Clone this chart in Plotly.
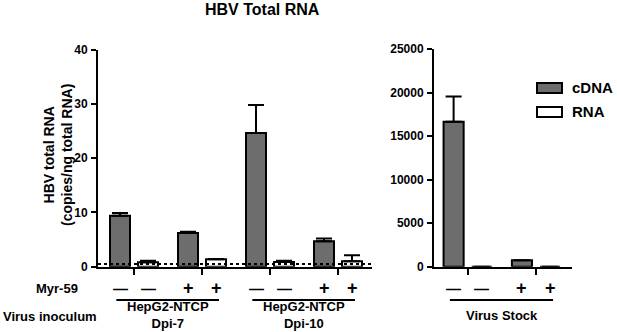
import plotly.graph_objects as go

W, H = 617, 332

# ---------------- data ----------------
groups_left = ["Dpi-7 -", "Dpi-7 +", "Dpi-10 -", "Dpi-10 +"]
cdna_left = [9.4, 6.2, 24.6, 4.7]
cdna_left_err = [0.5, 0.25, 5.2, 0.5]
rna_left = [0.8, 1.35, 0.85, 1.0]
rna_left_err = [0.3, 0.05, 0.25, 1.1]

groups_right = ["Stock -", "Stock +"]
cdna_right = [16650, 750]
cdna_right_err = [2900, 0]
rna_right = [0, 0]
rna_right_err = [0, 0]

lod = 0.5
myr_left = ["—", "+", "—", "+"]
myr_right = ["—", "+"]
left_yticks = [0, 10, 20, 30, 40]
right_yticks = [0, 5000, 10000, 15000, 20000, 25000]

# ---------------- style ----------------
FONT = "Liberation Sans"
GRAY = "#6d6d6d"
bargap = 0.176
bargroupgap = 0.286
off = (1 - bargap) / 4


def px(x):
    return x / W


def py(y):
    return 1 - y / H


fig = go.Figure()


def add_bars(x, vals, errs, color, name, xa, ya):
    fig.add_trace(go.Bar(
        x=x, y=vals, name=name, xaxis=xa, yaxis=ya,
        marker=dict(color=color, line=dict(color="black", width=2)),
        error_y=dict(type="data", symmetric=False, array=errs,
                     arrayminus=[0] * len(errs), color="black",
                     thickness=2, width=8),
        showlegend=False, hoverinfo="skip",
    ))


add_bars(groups_left, cdna_left, cdna_left_err, GRAY, "cDNA", "x", "y")
add_bars(groups_left, rna_left, rna_left_err, "white", "RNA", "x", "y")
add_bars(groups_right, cdna_right, cdna_right_err, GRAY, "cDNA", "x2", "y2")
add_bars(groups_right, rna_right, rna_right_err, "white", "RNA", "x2", "y2")

axis_common = dict(showline=True, linewidth=2, linecolor="black",
                   showgrid=False, zeroline=False, ticks="outside",
                   tickwidth=2, tickcolor="black", automargin=False)
tickfont = dict(family=FONT, size=12, color="black", weight="bold")

fig.update_layout(
    template="none",
    width=W, height=H, autosize=False,
    margin=dict(l=0, r=0, t=0, b=0, pad=0),
    paper_bgcolor="white", plot_bgcolor="white",
    barmode="group", bargap=bargap, bargroupgap=bargroupgap,
    showlegend=False,
    xaxis=dict(domain=[px(98), px(372)], range=[-0.53, 3.5],
               type="category", showticklabels=False, ticklen=6,
               anchor="y", **axis_common),
    yaxis=dict(domain=[py(266.7), py(49.5)], range=[0, 40],
               tickvals=left_yticks, ticklen=5, tickfont=tickfont,
               ticklabelstandoff=1, anchor="x", **axis_common),
    xaxis2=dict(domain=[px(434), px(572)], range=[-0.493, 1.527],
                type="category", showticklabels=False, ticklen=6,
                anchor="y2", **axis_common),
    yaxis2=dict(domain=[py(266.7), py(49)], range=[0, 25000],
                tickvals=right_yticks, tickformat="d", ticklen=5,
                tickfont=tickfont, ticklabelstandoff=1, anchor="x2",
                **axis_common),
)

# detection-limit dotted line
fig.add_shape(type="line", xref="x domain", yref="y", x0=0, x1=1,
              y0=lod, y1=lod, line=dict(color="black", width=2, dash="dot"))

ann = []


def text(x, y, s, size, xref="paper", xanchor="center", angle=0):
    ann.append(dict(x=x, y=y, xref=xref, yref="paper", text=s,
                    showarrow=False, xanchor=xanchor, yanchor="middle",
                    textangle=angle,
                    font=dict(family=FONT, size=size, color="black",
                              weight="bold")))


# title
text(px(262), py(9), "HBV Total RNA", 16)
# y-axis title
text(px(58), py(155), "HBV total RNA<br>(copies/ng total RNA)", 14, angle=-90)

# row labels
text(px(57), py(288), "Myr-59", 13)
text(px(50), py(316), "Virus inoculum", 13)


def sign(xref, pos, s):
    text(pos, py(288), s, 15 if s == "—" else 18, xref=xref)


# Myr-59 signs under each bar (both bars of a group share the sign)
for xref, signs in (("x", myr_left), ("x2", myr_right)):
    for gi, s in enumerate(signs):
        sign(xref, gi - off, s)
        sign(xref, gi + off, s)

# group underline and labels
for xref, a, b in (("x", 0, 1), ("x", 2, 3), ("x2", 0, 1)):
    fig.add_shape(type="line", xref=xref, yref="paper",
                  x0=a - 0.26, x1=b + 0.25, y0=py(300), y1=py(300),
                  line=dict(color="black", width=2))

text(0.5, py(315), "HepG2-NTCP<br>Dpi-7", 13, xref="x")
text(2.5, py(315), "HepG2-NTCP<br>Dpi-10", 13, xref="x")
text(0.5, py(315), "Virus Stock", 13, xref="x2")

# legend
for (y0, y1, col, label, yc) in ((83, 93, GRAY, "cDNA", 88),
                                  (107, 117, "white", "RNA", 112)):
    fig.add_shape(type="rect", xref="paper", yref="paper",
                  x0=px(537), x1=px(562), y0=py(y1), y1=py(y0),
                  fillcolor=col, line=dict(color="black", width=2))
    text(px(570), py(yc), label, 15, xanchor="left")

fig.update_layout(annotations=ann)

fig.write_html("out.html",
               config={"displayModeBar": False, "staticPlot": True},
               post_script="document.body.style.margin='0';"
                           "document.body.style.overflow='hidden';")
